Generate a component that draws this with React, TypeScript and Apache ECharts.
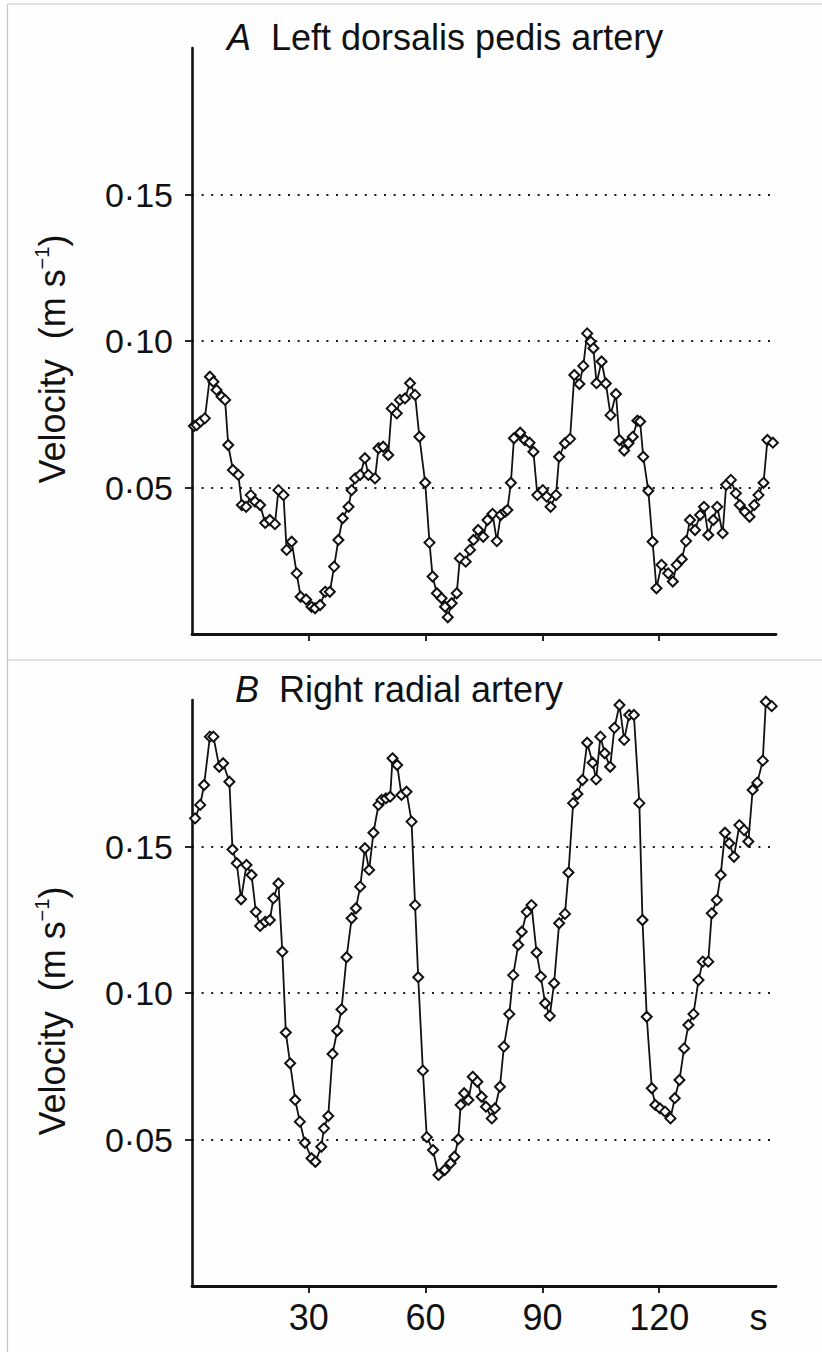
import React, { useEffect, useRef } from "react";
import * as echarts from "echarts";

// Panel A: left dorsalis pedis artery (time in s, velocity in m/s)
const timeA = [
  0.5, 1.2, 2.2, 3.3, 4.6, 5.5, 6.3, 7.6, 8.5, 9.3, 10.5, 11.9, 12.8, 13.9, 15.1, 16.2, 17.5, 18.8, 20.0, 21.3,
  22.2, 23.5, 24.3, 25.6, 26.9, 27.9, 29.3, 30.7, 31.6, 32.9, 34.2, 35.4, 36.5, 37.6, 38.7, 40.2, 41.0, 41.9, 43.2, 44.4,
  45.3, 47.0, 47.9, 49.1, 50.4, 51.3, 52.6, 53.4, 54.7, 56.0, 57.3, 58.4, 59.9, 61.0, 61.8, 62.9, 64.1, 65.0, 65.7, 66.7,
  68.0, 68.8, 70.3, 71.4, 72.3, 73.5, 74.8, 75.9, 77.2, 78.3, 79.3, 80.4, 81.0, 81.9, 82.7, 84.3, 85.5, 86.7, 87.7, 88.7,
  90.1, 91.1, 92.1, 93.5, 94.3, 95.8, 97.1, 98.2, 99.5, 100.5, 101.5, 102.4, 103.1, 103.9, 105.2, 106.3, 107.5, 108.9, 109.8, 111.0,
  112.1, 113.2, 114.4, 115.1, 115.9, 117.2, 118.3, 119.3, 120.6, 122.3, 123.5, 124.5, 125.8, 126.9, 127.9, 129.2, 130.5, 131.5, 132.6, 133.9,
  134.9, 136.3, 137.2, 138.4, 139.7, 140.7, 142.0, 143.2, 144.4, 145.5, 146.8, 147.8, 149.2,
];
const velA = [
  0.071, 0.0713, 0.0725, 0.0736, 0.0878, 0.0861, 0.0833, 0.081, 0.0799, 0.0645, 0.056, 0.0543, 0.044, 0.0434, 0.0474, 0.0452, 0.044, 0.0379, 0.0389, 0.0375,
  0.0491, 0.0474, 0.0287, 0.0315, 0.0207, 0.0127, 0.0118, 0.0093, 0.0088, 0.0099, 0.0144, 0.0144, 0.023, 0.0321, 0.0395, 0.0434, 0.0491, 0.0531, 0.0543, 0.06,
  0.0543, 0.0531, 0.0634, 0.0639, 0.0611, 0.077, 0.0753, 0.0799, 0.0804, 0.0856, 0.0816, 0.0673, 0.0516, 0.0312, 0.0196, 0.0139, 0.0122, 0.0093, 0.0057, 0.0105,
  0.0139, 0.0258, 0.0247, 0.0287, 0.0321, 0.0355, 0.0332, 0.0389, 0.041, 0.0317, 0.0406, 0.0417, 0.0423, 0.0516, 0.0668, 0.0687, 0.0662, 0.0653, 0.0622, 0.0474,
  0.0491, 0.0469, 0.0434, 0.0474, 0.0605, 0.0651, 0.0666, 0.0884, 0.0853, 0.0915, 0.1026, 0.0998, 0.0975, 0.0856, 0.093, 0.0855, 0.0747, 0.0819, 0.0662, 0.0626,
  0.0651, 0.0673, 0.0728, 0.0725, 0.0605, 0.0489, 0.0315, 0.0156, 0.0236, 0.0207, 0.0179, 0.0236, 0.0255, 0.0317, 0.0389, 0.0355, 0.0406, 0.0434, 0.0338, 0.0389,
  0.0434, 0.0344, 0.0509, 0.0526, 0.048, 0.044, 0.0417, 0.04, 0.044, 0.0474, 0.0516, 0.0662, 0.0653,
];

// Panel B: right radial artery
const timeB = [
  0.8, 2.1, 3.1, 4.6, 5.5, 7.0, 8.0, 9.6, 10.4, 11.5, 12.6, 14.0, 15.3, 16.4, 17.5, 18.8, 20.0, 20.9, 22.2, 23.2,
  24.1, 25.2, 26.5, 27.7, 29.0, 30.7, 31.7, 33.2, 33.9, 35.0, 36.1, 37.3, 38.4, 39.7, 41.0, 42.1, 43.2, 44.4, 45.5, 46.6,
  47.9, 48.7, 49.8, 50.9, 51.5, 52.7, 53.8, 55.1, 56.4, 57.3, 58.1, 59.3, 60.3, 61.9, 63.3, 64.9, 66.4, 67.4, 68.4, 69.0,
  69.9, 71.0, 72.1, 73.3, 74.4, 75.5, 77.0, 77.8, 79.1, 80.1, 81.5, 82.5, 83.8, 84.7, 86.0, 87.2, 88.5, 89.6, 90.7, 91.9,
  93.0, 94.3, 95.8, 96.7, 97.9, 99.0, 100.3, 101.5, 102.9, 103.8, 104.9, 106.0, 107.4, 108.5, 109.8, 111.0, 112.3, 113.5, 114.9, 115.7,
  116.8, 118.1, 119.0, 120.2, 121.5, 122.9, 124.0, 125.2, 126.4, 127.5, 128.8, 130.1, 131.2, 132.6, 133.5, 134.8, 135.8, 136.9, 138.0, 139.2,
  140.6, 141.8, 142.9, 144.0, 145.2, 146.6, 147.4, 148.9,
];
const velB = [
  0.1596, 0.1642, 0.171, 0.1875, 0.1875, 0.1772, 0.1784, 0.1721, 0.149, 0.1443, 0.132, 0.1437, 0.1403, 0.1277, 0.1229, 0.1243, 0.1249, 0.1323, 0.1374, 0.1141,
  0.0865, 0.076, 0.0635, 0.0561, 0.0489, 0.0436, 0.0424, 0.0475, 0.0538, 0.058, 0.0792, 0.0871, 0.0944, 0.1122, 0.1255, 0.1289, 0.1363, 0.1494, 0.142, 0.1547,
  0.1642, 0.1659, 0.1664, 0.167, 0.1801, 0.1778, 0.1676, 0.1687, 0.1585, 0.13, 0.1054, 0.0735, 0.0508, 0.0464, 0.0379, 0.0396, 0.0419, 0.0441, 0.0501, 0.0618,
  0.0658, 0.0635, 0.0714, 0.0697, 0.0646, 0.0612, 0.0572, 0.0606, 0.068, 0.0817, 0.0928, 0.1061, 0.1164, 0.1209, 0.1277, 0.13, 0.1138, 0.1056, 0.0965, 0.0922,
  0.1033, 0.1238, 0.127, 0.1411, 0.1648, 0.1679, 0.1727, 0.1854, 0.1786, 0.1729, 0.1875, 0.1818, 0.1772, 0.1905, 0.1983, 0.1864, 0.1949, 0.1949, 0.1648, 0.1249,
  0.0919, 0.0675, 0.0618, 0.0606, 0.0595, 0.0572, 0.0641, 0.0703, 0.0811, 0.0891, 0.0928, 0.1044, 0.1107, 0.1107, 0.1272, 0.1317, 0.1403, 0.1547, 0.1511, 0.1465,
  0.1573, 0.1556, 0.1517, 0.1693, 0.1718, 0.1793, 0.1994, 0.1979,
];

const xTicks = [30, 60, 90, 120];
const xUnitPos = 145.5;
const yTicks = [0.05, 0.1, 0.15];

const FONT = "'Liberation Sans', Arial, Helvetica, sans-serif";

function pairs(t: number[], v: number[]) {
  return t.map((x, i) => [x, v[i]]);
}

function makeX(gridIndex: number, withLabels: boolean) {
  return {
    type: "value",
    gridIndex,
    min: 0,
    max: 150,
    interval: 30,
    axisLine: { show: true, lineStyle: { color: "#111", width: 2.8 } },
    axisTick: {
      show: true,
      length: 7,
      customValues: xTicks,
      lineStyle: { color: "#111", width: 1.8 },
    },
    axisLabel: {
      show: withLabels,
      customValues: [...xTicks, xUnitPos],
      formatter: (v: number) => (v === xUnitPos ? "s" : String(v)),
      fontFamily: FONT,
      fontSize: 36,
      color: "#111",
      margin: 13,
    },
    splitLine: { show: false },
  };
}

function makeY(gridIndex: number) {
  return {
    type: "value",
    gridIndex,
    min: 0,
    max: 0.2,
    interval: 0.05,
    axisLine: { show: true, lineStyle: { color: "#111", width: 2.6 } },
    axisTick: {
      show: true,
      length: 7,
      customValues: yTicks,
      lineStyle: { color: "#111", width: 1.8 },
    },
    axisLabel: {
      customValues: yTicks,
      formatter: (v: number) => v.toFixed(2).replace(".", "\u00b7"),
      fontFamily: FONT,
      fontSize: 34,
      color: "#111",
      margin: 19,
    },
    // split lines follow the custom tick values: 0.05, 0.10, 0.15
    splitLine: {
      show: true,
      lineStyle: { color: "#1a1a1a", width: 2, type: [2, 7.6] },
    },
  };
}

function makeSeries(idx: number, t: number[], v: number[]) {
  return {
    type: "line",
    xAxisIndex: idx,
    yAxisIndex: idx,
    data: pairs(t, v),
    symbol: "diamond",
    symbolSize: 10,
    lineStyle: { color: "#111", width: 1.8 },
    itemStyle: { color: "#fff", borderColor: "#111", borderWidth: 2 },
    z: 3,
  };
}

function panelTitle(letter: string, text: string, x: number, y: number) {
  return {
    type: "text",
    x,
    y,
    style: {
      text: `{i|${letter}}{r|  ${text}}`,
      verticalAlign: "middle",
      align: "left",
      rich: {
        i: { fontFamily: FONT, fontSize: 36, fontStyle: "italic", fill: "#111" },
        r: { fontFamily: FONT, fontSize: 36, fill: "#111" },
      },
    },
  };
}

function velocityTitle(cy: number) {
  return {
    type: "text",
    x: 52,
    y: cy,
    rotation: Math.PI / 2,
    style: {
      text: "{a|Velocity  (m s}{b|\u22121}{a|)}",
      align: "center",
      verticalAlign: "middle",
      rich: {
        a: { fontFamily: FONT, fontSize: 36, fill: "#111", lineHeight: 40 },
        b: { fontFamily: FONT, fontSize: 20, fill: "#111", verticalAlign: "top", lineHeight: 40 },
      },
    },
  };
}

export default function App() {
  const ref = useRef<HTMLDivElement>(null);

  useEffect(() => {
    if (!ref.current) return;
    const chart = echarts.init(ref.current, undefined, { renderer: "svg" });
    const frame = { stroke: "#c4c4c4", lineWidth: 1.2 };
    chart.setOption({
      animation: false,
      backgroundColor: "#fefefe",
      grid: [
        { left: 192, top: 48, width: 584, height: 586 },
        { left: 192, top: 700, width: 584, height: 586 },
      ],
      xAxis: [makeX(0, false), makeX(1, true)],
      yAxis: [makeY(0), makeY(1)],
      series: [makeSeries(0, timeA, velA), makeSeries(1, timeB, velB)],
      graphic: [
        { type: "line", shape: { x1: 7.5, y1: 4, x2: 7.5, y2: 1352 }, style: frame, silent: true },
        { type: "line", shape: { x1: 7.5, y1: 4, x2: 822, y2: 4 }, style: frame, silent: true },
        { type: "line", shape: { x1: 7.5, y1: 660, x2: 822, y2: 660 }, style: frame, silent: true },
        panelTitle("A", "Left dorsalis pedis artery", 227, 37),
        panelTitle("B", "Right radial artery", 235, 689),
        velocityTitle(359),
        velocityTitle(1011),
      ],
    });
    return () => chart.dispose();
  }, []);

  return (
    <div
      ref={ref}
      style={{ position: "fixed", left: 0, top: 0, width: 822, height: 1352 }}
    />
  );
}
